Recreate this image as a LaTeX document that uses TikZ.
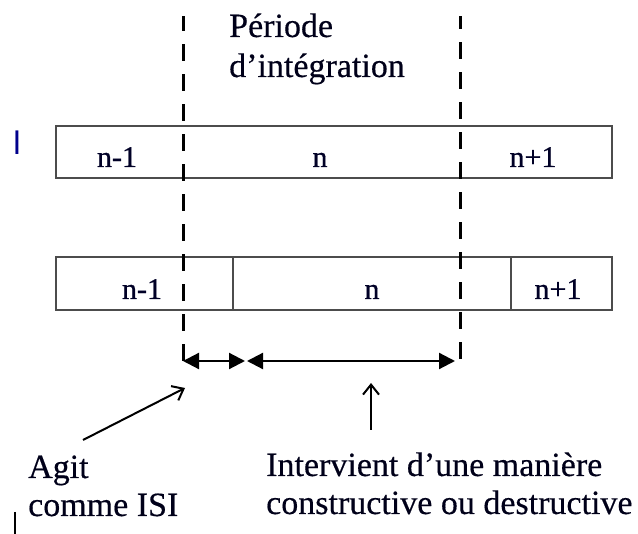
\documentclass[tikz,border=0pt]{standalone}
\usepackage{fontspec}
\setmainfont{Liberation Serif}
\newfontfamily\captionfont[FakeBold=0.4]{Liberation Serif}
\newfontfamily\slotfont[FakeBold=0.8]{Liberation Serif}
\newfontfamily\markfont{Carlito}
\usetikzlibrary{arrows.meta}

\tikzset{
  cell/.style={draw=black!70, line width=1.3pt, minimum height=52pt,
    inner sep=0pt, outer sep=0pt},
  slotlabel/.style={font=\slotfont\fontsize{30}{34}\selectfont, inner sep=0pt,
    anchor=base, text=black!85!blue},
  caption/.style={font=\captionfont\fontsize{34}{39}\selectfont, inner sep=0pt,
    anchor=base west, text=black!90!blue},
  boundary/.style={line width=3pt, dash pattern=on 17pt off 13pt},
  span/.style={line width=2.2pt,
    {Triangle[length=16pt,width=16pt]}-{Triangle[length=16pt,width=16pt]}},
  pointer/.style={line width=2pt, -{Straight Barb[length=10pt,width=16pt]}},
}

\begin{document}
\begin{tikzpicture}[x=1pt,y=-1pt]
  \useasboundingbox (0,0) rectangle (638,534);

  % upper symbol row: one frame, split only by the integration bounds
  \node[cell, minimum width=556pt] (rowtop) at (334,152) {};
  \node[slotlabel] (top-prev) at (117,167) {n-1};
  \node[slotlabel] (top-cur)  at (320,167) {n};
  \node[slotlabel] (top-next) at (533,167) {n+1};

  % lower (delayed) symbol row
  \node[cell, minimum width=177pt, minimum height=53pt] (bot-prev) at (144.5,283.5) {};
  \node[cell, minimum width=278pt, minimum height=53pt] (bot-cur)  at (372,283.5) {};
  \node[cell, minimum width=101pt, minimum height=53pt] (bot-next) at (561.5,283.5) {};
  \node[slotlabel] (lab-prev) at (142,299) {n-1};
  \node[slotlabel] (lab-cur)  at (372,299) {n};
  \node[slotlabel] (lab-next) at (558,299) {n+1};

  % integration window bounds, dashed from the bottom up so each ends on a dash
  \coordinate (win-l-top) at (183,16);
  \coordinate (win-l-end) at (183,361);
  \coordinate (win-r-top) at (460,16);
  \coordinate (win-r-end) at (460,359);
  \draw[boundary] (win-l-end) -- (win-l-top);
  \draw[boundary] (win-r-end) -- (win-r-top);

  % spans inside the window
  \coordinate (isi-end)  at (245,361);
  \coordinate (main-beg) at (247,361);
  \coordinate (main-end) at (455,361);
  \draw[span] (win-l-end) -- (isi-end);
  \draw[span] (main-beg) -- (main-end);

  % titles and captions
  \node[caption] (title1) at (229,37) {Période};
  \node[caption] (title2) at (229,77) {d’intégration};
  \node[caption] (isi1) at (28,478) {Agit};
  \node[caption] (isi2) at (28,516) {comme ISI};
  \node[caption] (cd1) at (266,476) {Intervient d’une manière};
  \node[caption] (cd2) at (266,514) {constructive ou destructive};

  % pointers from captions
  \coordinate (isi-tail) at (83,440);
  \coordinate (isi-tip)  at (185,388);
  \coordinate (cd-tail)  at (371,430);
  \coordinate (cd-tip)   at (371,383);
  \draw[pointer] (isi-tail) -- (isi-tip);
  \draw[pointer] (cd-tail) -- (cd-tip);

  % stray marks at the left margin
  \node[font=\markfont\fontsize{34}{34}\selectfont, text=blue!55!black,
    inner sep=0pt, anchor=base] (stray) at (17,155) {l};
  \coordinate (bar-top) at (15,512);
  \coordinate (bar-bot) at (15,534);
  \draw[line width=1.5pt] (bar-top) -- (bar-bot);
\end{tikzpicture}
\end{document}
